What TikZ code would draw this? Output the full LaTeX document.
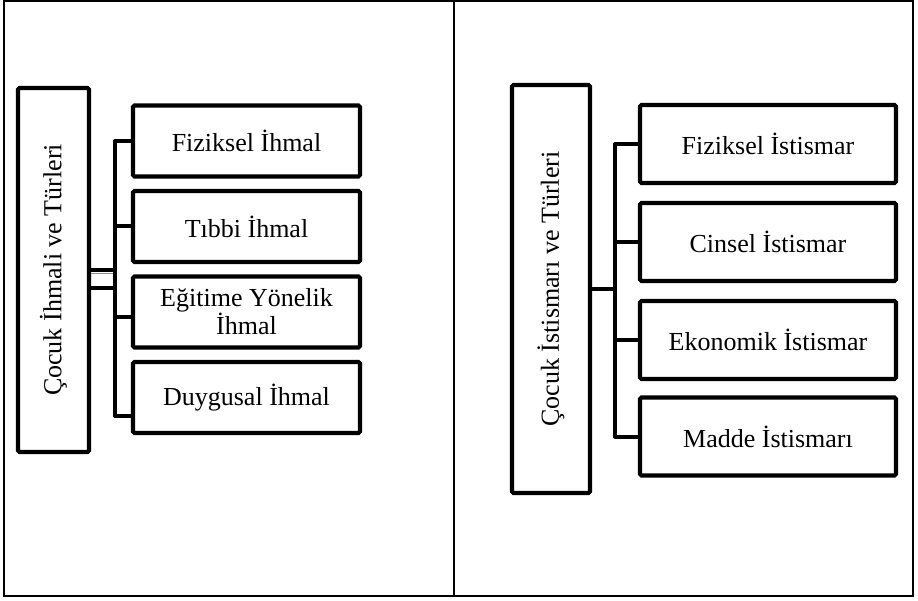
\documentclass[tikz,border=0pt]{standalone}
\usepackage{fontspec}
\setmainfont{Liberation Serif}
\usetikzlibrary{calc}
\begin{document}
\begin{tikzpicture}[x=1pt,y=-1pt,
  box/.style={draw=black, line width=4.2pt, rounded corners=1.5pt, inner sep=0pt, outer sep=0pt, align=center, font=\fontsize{26}{27}\selectfont},
  vtext/.style={rotate=90, inner sep=0pt, font=\fontsize{26}{27}\selectfont},
  conn/.style={draw=black, line width=4pt, line join=round},
  frame/.style={draw=black, line width=1.7pt}]
\useasboundingbox (0,0) rectangle (918,601);
% frame
\draw[frame] (4,1) rectangle (913,596);
\draw[frame] (454,1) -- (454,596);
% ---------- left panel ----------
\node[box, minimum width=71, minimum height=364] (lm) at (53.5,270) {};
\node[vtext] (lmt) at (lm.center) {Çocuk İhmali ve Türleri};
\node[box, minimum width=227, minimum height=71] (lc1) at (246.5,141) {Fiziksel İhmal};
\node[box, minimum width=227, minimum height=71] (lc2) at (246.5,226.5) {Tıbbi İhmal};
\node[box, minimum width=227, minimum height=71] (lc3) at (246.5,312) {Eğitime Yönelik\\İhmal};
\node[box, minimum width=227, minimum height=71] (lc4) at (246.5,397.5) {Duygusal İhmal};
\coordinate (lbus) at (115,0);
\draw[conn] (lc1.west) -- (lc1.west -| lbus) -- ($(lc4.west -| lbus)+(0,18.5)$) -- ($(lc4.west)+(0,18.5)$);
\draw[conn] (lc2.west) -- (lc2.west -| lbus);
\draw[conn] ($(lc3.west)+(0,5.5)$) -- ($(lc3.west -| lbus)+(0,5.5)$);
\draw[conn] (lm.east) -- (lm.east -| lbus);
\draw[conn] ($(lm.east)+(0,18)$) -- ($(lm.east -| lbus)+(0,18)$);
\draw[draw=black!45, line width=0.8pt] ($(lm.east)+(2,3.2)$) -- ($(lm.east -| lbus)+(-2,3.2)$);
% ---------- right panel ----------
\node[box, minimum width=78, minimum height=408] (rm) at (551,289) {};
\node[vtext] (rmt) at (rm.center) {Çocuk İstismarı ve Türleri};
\node[box, minimum width=256, minimum height=78] (rc1) at (768,144) {Fiziksel İstismar};
\node[box, minimum width=256, minimum height=78] (rc2) at (768,242) {Cinsel İstismar};
\node[box, minimum width=256, minimum height=78] (rc3) at (768,340) {Ekonomik İstismar};
\node[box, minimum width=256, minimum height=78] (rc4) at (768,436.5) {Madde İstismarı};
\coordinate (rbus) at (615,0);
\draw[conn] (rc1.west) -- (rc1.west -| rbus) -- (rc4.west -| rbus) -- (rc4.west);
\draw[conn] (rc2.west) -- (rc2.west -| rbus);
\draw[conn] (rc3.west) -- (rc3.west -| rbus);
\draw[conn] (rm.east) -- (rm.east -| rbus);
\end{tikzpicture}
\end{document}
